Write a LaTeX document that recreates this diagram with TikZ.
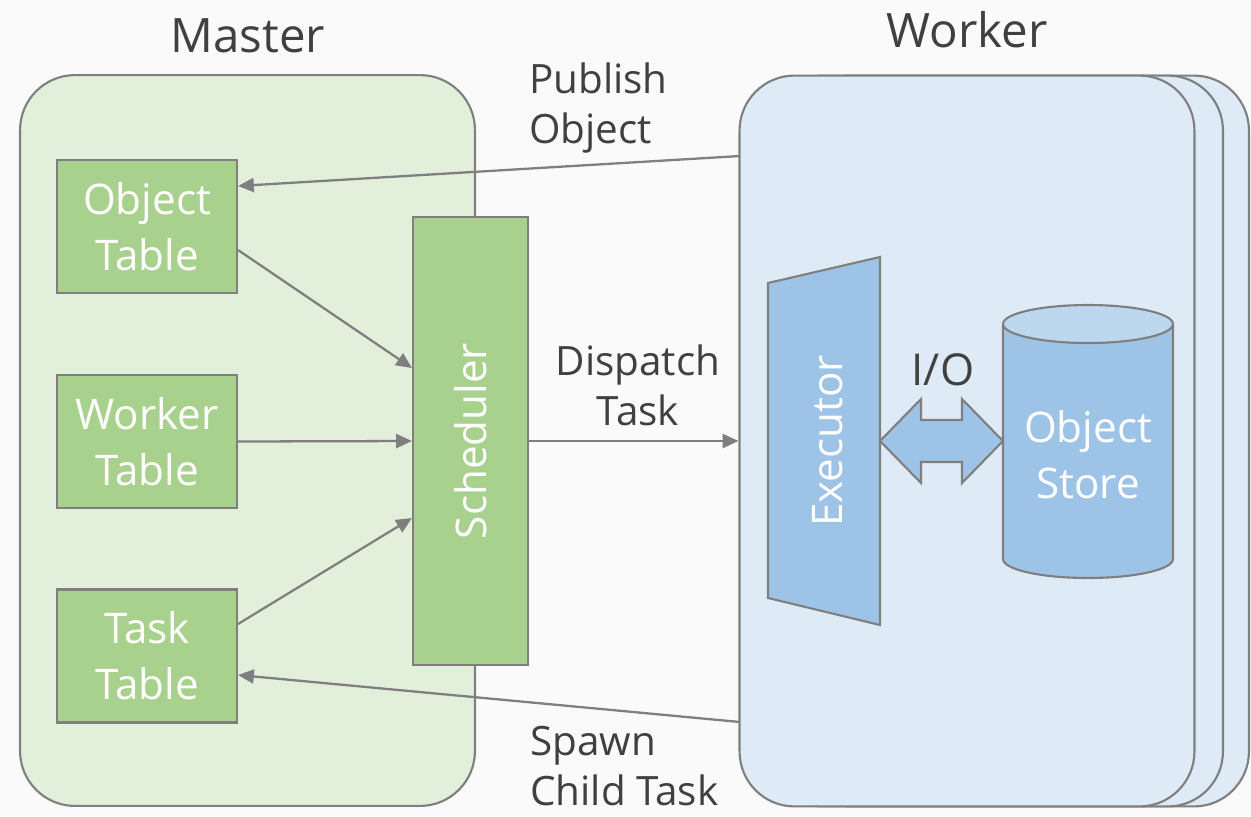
\documentclass[tikz,border=0pt]{standalone}
\usepackage{fontspec}
\setmainfont{Open Sans}
\usetikzlibrary{arrows.meta}
\definecolor{edge}{HTML}{7F7F7F}
\definecolor{mgreen}{HTML}{E2EFDA}
\definecolor{bgreen}{HTML}{A9D18E}
\definecolor{wblue}{HTML}{DEEBF7}
\definecolor{bblue}{HTML}{9DC3E6}
\definecolor{lblue}{HTML}{BDD7EE}
\definecolor{txt}{HTML}{404040}
\definecolor{bg}{HTML}{FAFAFA}
\tikzset{
  panel/.style={draw=edge, line width=1.2pt, rounded corners=1.1cm, inner sep=0pt},
  tablebox/.style={draw=edge, line width=1.2pt, fill=bgreen, minimum width=3.6cm, minimum height=2.66cm, inner sep=0pt, text=white, font=\fontsize{24}{32}\selectfont, align=center},
  conn/.style={draw=edge, line width=1.3pt, -{Triangle[length=9pt,width=8pt]}},
  lbl/.style={text=txt, font=\fontsize{23}{28.5}\selectfont, inner sep=0pt},
  title/.style={text=txt, font=\fontsize{27}{32}\selectfont, inner sep=0pt},
}
\begin{document}
\begin{tikzpicture}[x=0.02cm, y=-0.02cm]
\path[fill=bg] (0,0) rectangle (1251,816);
\useasboundingbox (0,0) rectangle (1251,816);

% Master panel
\node[panel, fill=mgreen, minimum width=9.1cm, minimum height=14.62cm] (master) at (247.5,440.5) {};
\node[title] (mastert) at (248,36) {Master};

% Worker panels (stacked)
\node[panel, fill=wblue, minimum width=9.06cm, minimum height=14.62cm] (worker3) at (1022.5,441) {};
\node[panel, fill=wblue, minimum width=9.1cm, minimum height=14.62cm] (worker2) at (995.5,441) {};
\node[panel, fill=wblue, minimum width=9.1cm, minimum height=14.62cm] (worker) at (967,441) {};
\node[title] (workert) at (967,30) {Worker};

% Tables
\node[tablebox] (obj) at (147,226.5) {Object\\Table};
\node[tablebox] (wtab) at (147,441.5) {Worker\\Table};
\node[tablebox] (ttab) at (147,656) {Task\\Table};
\node[draw=edge, line width=1.2pt, fill=bgreen, minimum width=2.3cm, minimum height=8.96cm, inner sep=0pt] (sched) at (470.5,441) {};
\node[rotate=90, text=white, font=\fontsize{24}{28}\selectfont] (schedt) at (470.5,441) {Scheduler};

% Executor
\coordinate (e1) at (768,283);
\coordinate (e2) at (880,257);
\coordinate (e3) at (880,625);
\coordinate (e4) at (768,598);
\draw[edge, line width=1.2pt, fill=bblue, line join=miter] (e1) -- (e2) -- (e3) -- (e4) -- cycle;
\node[rotate=90, text=white, font=\fontsize{24}{28}\selectfont] (exec) at (828,441) {Executor};

% Object store cylinder
\draw[edge, line width=1.2pt, fill=bblue] (1003,324) -- (1003,559) arc[start angle=180, end angle=360, x radius=1.7cm, y radius=0.38cm] -- (1173,324);
\draw[edge, line width=1.2pt, fill=lblue] (1088,324) ellipse[x radius=1.7cm, y radius=0.38cm];
\node[text=white, font=\fontsize{24}{32}\selectfont, align=center] (store) at (1088,455) {Object\\Store};

% I/O double arrow
\draw[edge, line width=1.2pt, fill=bblue, line join=miter] (880,441) -- (921,399) -- (921,420) -- (962,420) -- (962,399) -- (1003,441) -- (962,483) -- (962,462) -- (921,462) -- (921,483) -- cycle;
\node[lbl, font=\fontsize{25}{30}\selectfont] (io) at (943,370) {I/O};

% Connectors
\coordinate (pubstart) at (740,156);
\coordinate (spawnstart) at (740,722);
\draw[conn] (pubstart) -- (obj.east |- 0,186);
\draw[conn] (obj.east |- 0,250) -- (sched.west |- 0,368);
\draw[conn] (wtab.east) -- (sched.west);
\draw[conn] (ttab.east |- 0,624) -- (sched.west |- 0,518);
\draw[conn] (sched.east) -- (worker.west);
\draw[conn] (spawnstart) -- (ttab.east |- 0,675);

% Labels
\node[lbl, align=left, anchor=west] (pub) at (529,108) {Publish\\Object};
\node[lbl, align=center] (disp) at (638,385) {Dispatch\\Task};
\node[lbl, align=left, anchor=west] (spawn) at (530,766) {Spawn\\Child Task};
\end{tikzpicture}
\end{document}
